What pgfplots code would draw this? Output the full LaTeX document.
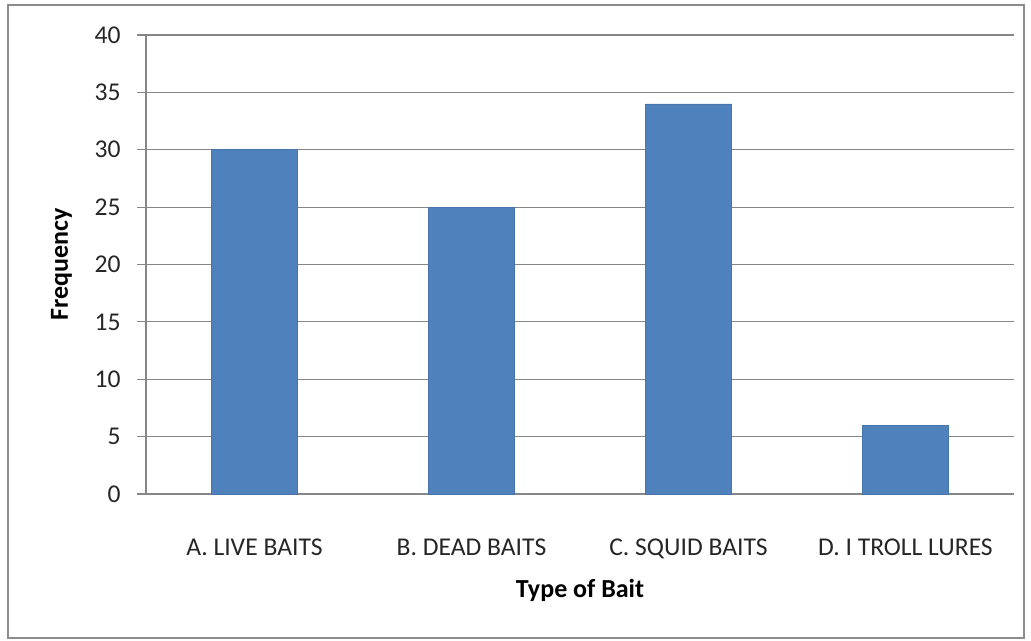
\documentclass[border=0pt]{standalone}
\usepackage{pgfplots}
\pgfplotsset{compat=1.18}
\usepackage{fontspec}
\setmainfont{Carlito}
\definecolor{barblue}{HTML}{4F81BD}
\definecolor{gridgray}{HTML}{868686}
\definecolor{framegray}{HTML}{8C8C8C}
\begin{document}
\begin{tikzpicture}
\useasboundingbox (-73pt,-73.5pt) rectangle (442.5pt,247pt);
\draw[framegray, line width=1.2pt] (-69pt,-72pt) rectangle (439pt,244.5pt);
\begin{axis}[
  at={(0pt,0pt)}, anchor=south west,
  scale only axis,
  width=434pt, height=229.5pt,
  xmin=-0.5, xmax=3.5,
  ymin=0, ymax=40,
  ytick={0,5,...,40},
  xtick={0,1,2,3},
  xticklabels={A. LIVE BAITS, B. DEAD BAITS, C. SQUID BAITS, D. I TROLL LURES},
  axis x line*=bottom,
  axis y line*=left,
  axis line style={gridgray, line width=0.6pt, -},
  ymajorgrids,
  major grid style={gridgray, line width=0.6pt},
  y tick style={gridgray, line width=0.6pt},
  tick align=outside,
  major tick length=4.5pt,
  x tick style={draw=none},
  ytick style={gridgray},
  /pgf/number format/assume math mode=true,
  ticklabel style={font=\fontsize{12.8}{15}\selectfont, text=black!85},
  yticklabel style={anchor=east, inner sep=0pt, xshift=-8pt},
  xticklabel style={anchor=base, inner sep=0pt, yshift=-26pt},
  xlabel={Type of Bait},
  ylabel={Frequency},
  label style={font=\bfseries\fontsize{13}{15}\selectfont},
  xlabel style={at={(axis description cs:0.5,0)}, anchor=base, inner sep=0pt, yshift=-51.5pt},
  ylabel style={at={(axis description cs:0,0.5)}, anchor=base, inner sep=0pt, yshift=39pt},
  clip=false,
]
\addplot[ybar, bar width=43pt, fill=barblue, draw=barblue!90!black, line width=0.3pt] coordinates {(0,30) (1,25) (2,34) (3,6)};
\end{axis}
\end{tikzpicture}
\end{document}
